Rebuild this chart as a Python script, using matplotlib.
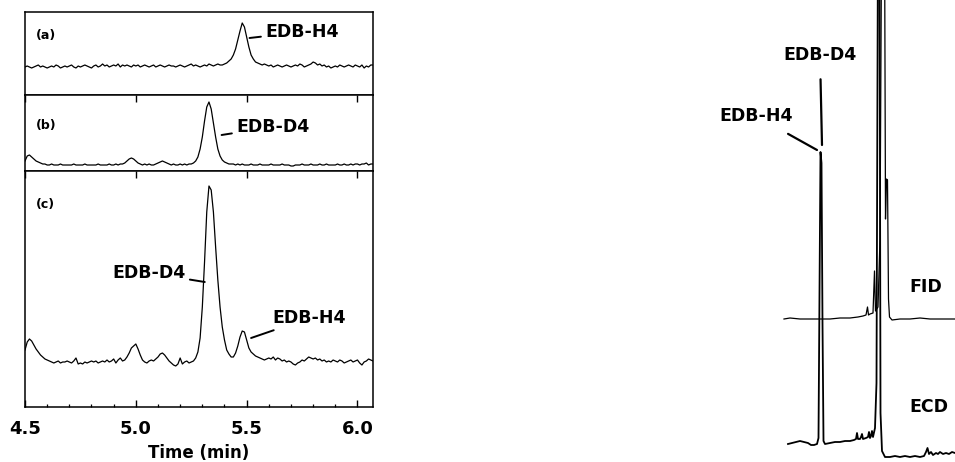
import numpy as np
import matplotlib.pyplot as plt
from matplotlib.ticker import MultipleLocator

plt.rcParams['font.family'] = ['DejaVu Sans']

# retention time grid of the three left chromatograms (min)
t_left = np.round(np.arange(4.50, 6.075, 0.01), 2)

# (a) signal above baseline
sig_a = [0, 1, 0, -1, 0, 1, 2, 0, 1, 0,
         -1, 0, 1, 0, 2, 1, -1, 0, 1, 0,
         1, 2, 0, -1, 1, 0, 1, 2, 1, 0,
         -1, 1, 2, 0, 1, 3, 1, 2, 0, 1,
         2, 1, 3, 0, 2, 1, 2, 1, 0, 2,
         1, 2, 0, 1, 2, 1, 0, 1, 2, 0,
         1, 2, 1, 0, 1, 2, 1, 1, 0, 1,
         2, 1, 0, 1, 2, 3, 1, 2, 1, 0,
         1, 2, 1, 3, 2, 1, 2, 3, 2, 2,
         3, 4, 6, 8, 12, 18, 27, 36, 44, 40,
         30, 20, 12, 8, 5, 4, 3, 2, 3, 2,
         1, 2, 0, 1, 2, 1, 0, 1, 2, 1,
         0, 1, 2, 1, 3, 2, 0, 1, 2, 3,
         5, 4, 2, 3, 1, 2, 0, 1, -1, 0,
         1, 0, 2, 1, 0, 1, 2, 1, 0, 2,
         1, 0, 2, -1, 1, 0, 2, 2]

# (b)
sig_b = [4, 9, 10, 8, 6, 4, 3, 2, 1, 1,
         0, 0, 1, 0, 0, 0, 1, 0, 0, 0,
         0, 0, 1, 0, 0, 0, 0, 1, 0, 0,
         0, 0, 0, 1, 0, 0, 0, 0, 1, 0,
         0, 1, 0, 1, 1, 2, 4, 6, 7, 6,
         4, 2, 1, 0, 1, 0, 1, 0, 0, 1,
         2, 3, 4, 3, 2, 1, 0, 1, 0, 0,
         1, 0, 1, 0, 1, 1, 2, 4, 8, 16,
         28, 44, 58, 63, 56, 42, 28, 16, 9, 5,
         3, 2, 1, 1, 1, 0, 1, 0, 1, 0,
         0, 0, 1, 0, 0, 0, 1, 0, 0, 0,
         0, 1, 0, 0, 0, 0, 1, 0, 0, 0,
         -1, -1, 0, 0, 0, 1, 0, 0, 0, 1,
         0, 0, 0, 1, 0, 0, 1, 0, 0, 0,
         0, 1, 0, 0, 1, 0, 0, 1, 0, 1,
         1, 0, 1, 1, 2, 0, 1, 1]

# (c)
sig_c = [12, 20, 23, 21, 17, 13, 10, 7, 5, 3,
         2, 1, 0, -1, 0, 1, -1, 0, 0, 1,
         0, -1, 1, 4, -2, -1, -2, 0, -1, 0,
         1, 0, 1, -1, 0, 1, 0, 2, 0, 1,
         3, -1, 2, 4, 1, 2, 5, 9, 14, 16,
         18, 13, 7, 2, 0, -1, 1, 2, 1, 3,
         5, 8, 9, 7, 4, 1, -1, -3, -4, -2,
         4, -2, 0, 1, -1, 0, 1, 4, 10, 24,
         55, 100, 150, 176, 172, 150, 115, 82, 55, 35,
         22, 12, 8, 5, 5, 9, 16, 25, 31, 30,
         22, 14, 10, 8, 6, 5, 4, 3, 2, 3,
         4, 3, 5, 2, 4, 3, 1, 2, 0, 1,
         0, -2, -3, -1, 0, 2, 1, 3, 5, 4,
         3, 4, 2, 3, 1, 2, 0, 1, 0, 2,
         1, 0, 2, 1, -1, 0, 1, 2, 0, 1,
         2, -1, -3, 0, 1, 3, 2, 1]

# right: FID and ECD traces (arbitrary time units, signal above own baseline)
t_fid = [0.4, 1.0, 2.0, 3.0, 4.0, 5.0, 6.0, 7.0, 7.8, 8.3, 8.6, 8.75, 8.85,
         9.0, 9.3, 9.45, 9.55, 9.8, 10.0, 10.25, 10.4, 10.55, 10.65, 10.75,
         10.85, 10.95, 11.2, 12.0, 13.0, 14.0, 15.0, 16.0, 17.0, 17.5]
sig_fid = [0, 1, 0, 0, 0, 0, 1, 1, 2, 3, 4, 12, 4,
           5, 6, 48, 8, 12, 80, 560, 560, 100, 140, 139,
           20, 2, -1, 0, 0, 1, 0, 0, 0, 0]

t_ecd = [0.8, 1.2, 1.6, 2.0, 2.4, 2.8, 3.1, 3.4, 3.7, 3.85, 3.95, 4.05, 4.15,
         4.25, 4.35, 4.5, 5.0, 5.5, 6.0, 6.5, 7.0, 7.4, 7.6, 7.7, 7.8, 8.0,
         8.1, 8.2, 8.3, 8.6, 8.8, 8.9, 9.0, 9.1, 9.2, 9.3, 9.5, 9.65, 9.8,
         9.95, 10.05, 10.15, 10.2, 10.3, 10.5, 11.0, 11.5, 12.0, 12.5, 13.0,
         13.5, 14.0, 14.4, 14.6, 14.75, 14.9, 15.1, 15.3, 15.6, 15.8, 16.0,
         16.3, 16.6, 16.9, 17.2, 17.5]
sig_ecd = [-1, 0, 1, 2, 1, 0, -2, -2, -1, 5, 150, 291, 280,
           120, 2, -1, 0, 1, 1, 2, 2, 3, 4, 10, 4, 4,
           6, 9, 4, 5, 6, 11, 5, 7, 12, 6, 15, 60, 520,
           520, 30, 5, -8, -10, -14, -14, -13, -14, -13, -14,
           -13, -14, -13, -9, -5, -11, -9, -12, -10, -11, -9,
           -11, -10, -11, -9, -10]

fig = plt.figure(figsize=(9.55, 4.62), dpi=100)
W, H = 955.0, 462.0
lw_trace = 0.9
bold = dict(fontweight='bold')
fs_lab = 12.5

# left stacked panels (pixel layout -> figure fractions)
x0, x1 = 25, 373
panels = [(12, 95, sig_a, (-28, 55)),
          (95, 171, sig_b, (-6, 70)),
          (171, 407, sig_c, (-45, 191))]
axes = []
for top, bot, sig, ylim in panels:
    ax = fig.add_axes([x0 / W, 1 - bot / H, (x1 - x0) / W, (bot - top) / H])
    ax.plot(t_left, sig, color='black', lw=lw_trace)
    ax.set_xlim(4.5, 6.07)
    ax.set_ylim(*ylim)
    ax.set_yticks([])
    for s in ax.spines.values():
        s.set_linewidth(1.1)
    ax.xaxis.set_major_locator(MultipleLocator(0.5))
    ax.xaxis.set_minor_locator(MultipleLocator(0.1))
    ax.tick_params(axis='x', which='major', direction='in', bottom=False,
                   top=True, labelbottom=False, width=1.0, length=5)
    ax.tick_params(axis='x', which='minor', direction='in', bottom=False,
                   top=False, length=2.5, width=0.9)
    axes.append(ax)

ax_a, ax_b, ax_c = axes
ax_a.tick_params(axis='x', which='both', top=False)
ax_c.tick_params(axis='x', which='both', bottom=True)
ax_c.tick_params(axis='x', which='major', labelbottom=True, labelsize=13, pad=9)
for lab in ax_c.get_xticklabels():
    lab.set_fontweight('bold')
ax_c.set_xlabel('Time (min)', fontsize=12, labelpad=5, **bold)

ax_a.text(0.03, 0.72, '(a)', transform=ax_a.transAxes, fontsize=9, va='center', **bold)
ax_b.text(0.03, 0.60, '(b)', transform=ax_b.transAxes, fontsize=9, va='center', **bold)
ax_c.text(0.03, 0.86, '(c)', transform=ax_c.transAxes, fontsize=9, va='center', **bold)

lead = dict(arrowstyle='-', lw=1.4, color='black', shrinkA=1, shrinkB=0)
ax_a.annotate('EDB-H4', xy=(5.513, 29), xytext=(5.583, 35), ha='left',
              va='center', fontsize=fs_lab, arrowprops=lead, **bold)
ax_b.annotate('EDB-D4', xy=(5.387, 30), xytext=(5.452, 38), ha='left',
              va='center', fontsize=fs_lab, arrowprops=lead, **bold)
ax_c.annotate('EDB-D4', xy=(5.311, 80), xytext=(5.225, 89), ha='right',
              va='center', fontsize=fs_lab, arrowprops=lead, **bold)
ax_c.annotate('EDB-H4', xy=(5.52, 24), xytext=(5.617, 44), ha='left',
              va='center', fontsize=fs_lab, arrowprops=lead, **bold)

# right chromatograms
ax_r = fig.add_axes([680 / W, 0, 275 / W, 1])
ax_r.set_xlim(-10, 17.5)
ax_r.set_ylim(0, H)
ax_r.axis('off')
fid_base, ecd_base = 143, 19
ax_r.plot(t_fid, np.array(sig_fid) + fid_base, color='black', lw=lw_trace)
ax_r.plot(t_ecd, np.array(sig_ecd) + ecd_base, color='black', lw=1.3)

lead_r = dict(arrowstyle='-', lw=1.6, color='black', shrinkA=9, shrinkB=0)
ax_r.annotate('EDB-D4', xy=(4.2, 317), xytext=(4.0, 407), ha='center',
              va='center', fontsize=fs_lab, arrowprops=lead_r, **bold)
ax_r.annotate('EDB-H4', xy=(3.7, 312), xytext=(-2.4, 346), ha='center',
              va='center', fontsize=fs_lab, arrowprops=lead_r, **bold)
ax_r.text(14.6, 175, 'FID', ha='center', va='center', fontsize=fs_lab, **bold)
ax_r.text(14.9, 55, 'ECD', ha='center', va='center', fontsize=fs_lab, **bold)

fig.savefig('out.png', dpi=100)
